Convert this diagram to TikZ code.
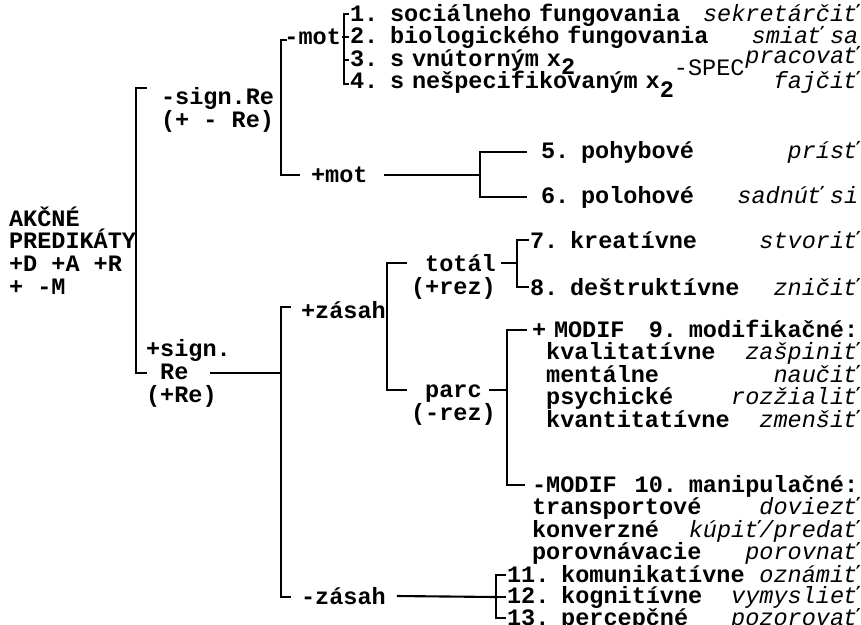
\documentclass[tikz,border=0pt]{standalone}
\usepackage{fontspec}
\setmainfont{Liberation Mono}[BoldFont={Liberation Mono Bold},ItalicFont={Liberation Mono Italic}]
\usetikzlibrary{positioning,calc}

\newcommand{\dsize}{\fontsize{6.69pt}{6.43pt}\selectfont\lineskiplimit=-\maxdimen}
\newcommand{\tsize}{\fontsize{6.69pt}{6.12pt}\selectfont\lineskiplimit=-\maxdimen}
\newcommand{\ex}[1]{{\mdseries\itshape #1}}
\newcommand{\lo}{\smash{\raisebox{-0.35em}{2}}}
\newcommand{\spec}{\smash{\raisebox{0.55em}{\mdseries -SPEC}}}
\newcommand{\ind}{\hspace*{0.6em}}

\begin{document}
\begin{tikzpicture}[x=0.01cm,y=-0.01cm,line width=0.6pt]
\tikzset{lbl/.style={inner sep=0pt,anchor=west,align=left,font=\bfseries\dsize},
  ml/.style={lbl,anchor=base west},
  row/.style={lbl,text width=#1},
  mrow/.style={ml,text width=#1}}
\useasboundingbox (0,0) rectangle (861,624);

% labels (multi-line ones sit on their last line)
\node[ml] (root) at (8,294) {AKČNÉ\\PREDIKÁTY\\+D +A +R\\+ -M};
\node[ml] (nsign) at (160,127) {-sign.Re\\(+ - Re)};
\node[ml] (psign) at (145,402) {+sign.\\\ind Re\\(+Re)};
\node[lbl,anchor=east] (nmot) at (342,37) {-mot};
\node[lbl] (pmot) at (310,175) {+mot};
\node[lbl] (pzas) at (300,310) {+zásah};
\node[lbl] (nzas) at (300,596) {-zásah};
\node[ml] (tot) at (410,294) {\ind totál\\(+rez)};
\node[ml] (parc) at (410,420) {\ind parc\\(-rez)};

% leaves
\node[mrow=5.08cm] (l14) at (349,21) {1. sociálneho fungovania\hfill\ex{sekretárčiť}\\
  2. biologického fungovania\hfill\ex{smiať sa}\\
  3. s vnútorným x\lo\hfill\raisebox{0.8pt}{\ex{pracovať}}\\
  4. s nešpecifikovaným x\lo\spec\hfill\ex{fajčiť}};
\node[row=3.17cm] (l5) at (540,152) {5. pohybové\hfill\ex{prísť}};
\node[row=3.17cm] (l6) at (540,197) {6. polohové\hfill\ex{sadnúť si}};
\node[row=3.28cm] (l7) at (529,240) {7. kreatívne\hfill\ex{stvoriť}};
\node[row=3.28cm] (l8) at (529,287) {8. deštruktívne\hfill\ex{zničiť}};
\node[mrow=3.26cm] (mod) at (531,337) {+ MODIF\hfill 9. modifikačné:\\
  \ind kvalitatívne\hfill\ex{zašpiniť}\\
  \ind mentálne\hfill\ex{naučiť}\\
  \ind psychické\hfill\ex{rozžialiť}\\
  \ind kvantitatívne\hfill\ex{zmenšiť}};
\node[mrow=3.26cm] (man) at (531,492) {-MODIF\hfill 10. manipulačné:\\
  transportové\hfill\ex{doviezť}\\
  konverzné\hfill\ex{kúpiť/predať}\\
  porovnávacie\hfill\ex{porovnať}};
\node[mrow=3.51cm,font=\bfseries\tsize] (l11) at (506,582) {11. komunikatívne\hfill\ex{oznámiť}\\
  12. kognitívne\hfill\ex{vymyslieť}\\
  13. percepčné\hfill\ex{pozorovať}};

% root bracket
\coordinate (r1) at (136,88);
\coordinate (r2) at (136,373);
\coordinate (rm) at (136,243);
\draw ($(r1)+(11,0)$) -- (r1) -- (r2) -- ++(11,0);
\draw (root.east |- rm) -- (rm);
% -sign.Re
\coordinate (a1) at (281,40);
\draw ($(a1)+(6,0)$) -- (a1) |- ($(pmot.west)+(-10,0)$);
% -mot
\coordinate (m1) at (344,14);
\coordinate (m4) at (344,84);
\draw ($(m1)+(5,0)$) -- (m1) -- (m4) -- ++(5,0);
\draw (nmot.east) -- ++(7,0);
\draw ($(m1)+(0,46)$) -- ++(5,0);
% +mot
\coordinate (b1) at (480,175);
\draw ($(pmot.east)+(15,0)$) -- (b1);
\draw ($(l5.west)+(-13,0)$) -| (b1) |- ($(l6.west)+(-13,0)$);
% +sign.Re
\coordinate (c1) at (281,307);
\coordinate (c2) at (281,597);
\coordinate (cm) at (281,373);
\draw ($(c1)+(10,0)$) -- (c1) -- (c2) -- ++(10,0);
\draw ($(psign.base west)+(65,-29)$) -- (cm);
% +zasah
\coordinate (d1) at (387,310);
\draw (pzas.east) -- (d1);
\draw ($(tot.base west)+(-3,-31)$) -| (d1) |- ($(parc.base west)+(-3,-30)$);
% total
\coordinate (e1) at (517,263);
\draw ($(tot.base west)+(91,-31)$) -- (e1);
\draw (l7.west) -| (e1) |- (l8.west);
% parc
\coordinate (f1) at (507,390);
\draw ($(parc.base west)+(79,-30)$) -- (f1);
\draw ($(mod.base west)+(-4,-7)$) -| (f1) |- ($(man.base west)+(-6,-7)$);
% -zasah
\coordinate (g1) at (496,597);
\draw ($(nzas.east)+(10,0)$) -- (g1);
\draw ($(l11.base west)+(0,-7)$) -| (g1) |- ($(l11.base west)+(0,36)$);
\draw (g1) -- (l11.west |- g1);
\end{tikzpicture}
\end{document}
